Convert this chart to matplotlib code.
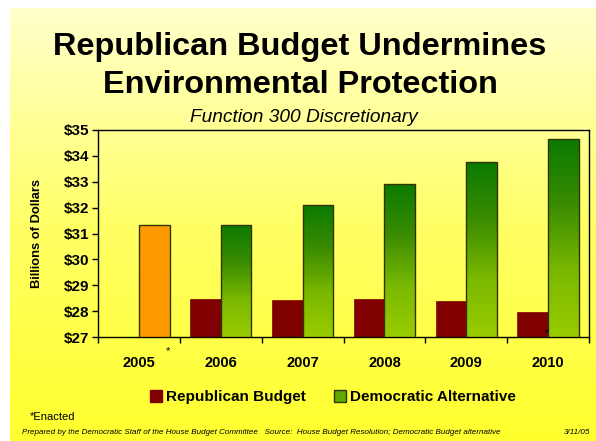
import numpy as np
import matplotlib
matplotlib.use("Agg")
import matplotlib.pyplot as plt
from matplotlib.colors import LinearSegmentedColormap
from matplotlib.patches import Patch

plt.rcParams['font.family'] = ['Liberation Sans', 'DejaVu Sans']

# ---- data ----
years = ["2005", "2006", "2007", "2008", "2009", "2010"]
republican = [np.nan, 28.47, 28.43, 28.47, 28.39, 27.97]
democratic = [31.31, 31.34, 32.11, 32.92, 33.77, 34.65]
enacted_year = "2005"
y_ticks = [27, 28, 29, 30, 31, 32, 33, 34, 35]

W, H = 596, 441
fig = plt.figure(figsize=(W / 100, H / 100), dpi=100)
fig.patch.set_facecolor("white")

# yellow slide background gradient
bg = fig.add_axes([10 / W, 0, 1 - 10 / W, 1 - 8 / H], zorder=0)
bg_cmap = LinearSegmentedColormap.from_list("bg", ["#ffff2e", "#ffff66", "#ffffcc"])
grad = np.linspace(0, 1, 256).reshape(-1, 1)
bg.imshow(grad, cmap=bg_cmap, aspect="auto", origin="lower", extent=(0, 1, 0, 1))
bg.set_axis_off()

ax = fig.add_axes([98 / W, 1 - 337 / H, (589 - 98) / W, (337 - 130) / H], zorder=1)
ax.set_facecolor("none")

x = np.arange(len(years))
w = 0.375
ymin, ymax = y_ticks[0], y_ticks[-1]

ax.bar(x - w / 2, np.array(republican) - ymin, w, bottom=ymin,
       color="#800000", edgecolor="#800000", linewidth=0.5, zorder=2)

green_cmap = LinearSegmentedColormap.from_list("grn", ["#99cc00", "#7ab800", "#3a8c00", "#0a7a00"])
for i, v in enumerate(democratic):
    if years[i] == enacted_year:
        ax.bar(x[i] + w / 2, v - ymin, w, bottom=ymin, color="#ff9900",
               edgecolor="#333300", linewidth=1.0, zorder=3)
        continue
    b = ax.bar(x[i] + w / 2, v - ymin, w, bottom=ymin, color="none",
               edgecolor="#333300", linewidth=1.0, zorder=4)[0]
    im = ax.imshow(grad, cmap=green_cmap, aspect="auto", origin="lower",
                   extent=(x[i], x[i] + w, ymin, v), zorder=3)
    im.set_clip_path(b)

ax.set_xlim(-0.5, len(years) - 0.5)
ax.set_ylim(ymin, ymax)
ax.set_yticks(y_ticks)
ax.set_yticklabels([f"${t}" for t in y_ticks], fontsize=11, fontweight="bold")
ax.set_xticks(np.arange(-0.5, len(years)), minor=False)
ax.set_xticklabels([])
ax.set_xticks(x, minor=True)
ax.set_xticklabels(years, minor=True, fontsize=10.5, fontweight="bold")
ax.tick_params(axis="x", which="minor", length=0, pad=14)
ax.tick_params(axis="x", which="major", length=4, width=1, direction="out")
ax.tick_params(axis="y", length=4, width=1, direction="out", pad=2)
for s in ax.spines.values():
    s.set_linewidth(1)
    s.set_color("black")

ax.set_ylabel("Billions of Dollars", fontsize=9.3, fontweight="bold")
ax.yaxis.set_label_coords(-0.113, 0.5)

# asterisks
fig.text(168 / W, 1 - 351 / H, "*", fontsize=8, ha="center", va="center")
fig.text(547 / W, 1 - 333 / H, "*", fontsize=7, ha="center", va="center")

# titles
fig.text(300 / W, 1 - 47 / H, "Republican Budget Undermines", fontsize=23.4,
         fontweight="bold", ha="center", va="center")
fig.text(300 / W, 1 - 85 / H, "Environmental Protection", fontsize=23.4,
         fontweight="bold", ha="center", va="center")
fig.text(304 / W, 1 - 117 / H, "Function 300 Discretionary", fontsize=13.8,
         style="italic", ha="center", va="center")

# legend
handles = [Patch(facecolor="#800000", edgecolor="#800000", label="Republican Budget"),
           Patch(facecolor="#5ea800", edgecolor="#333300", label="Democratic Alternative")]
fig.legend(handles=handles, loc="center", bbox_to_anchor=(333 / W, 1 - 397 / H),
           ncol=2, frameon=False, handlelength=0.8, handleheight=0.8,
           handletextpad=0.3, columnspacing=1.8,
           prop={"size": 11, "weight": "bold"})

fig.text(30 / W, 1 - 417 / H, "*Enacted", fontsize=8, ha="left", va="center")
fig.text(22 / W, 1 - 433 / H,
         "Prepared by the Democratic Staff of the House Budget Committee   "
         "Source:  House Budget Resolution; Democratic Budget alternative",
         fontsize=5.8, style="italic", ha="left", va="center")
fig.text(590 / W, 1 - 433 / H, "3/11/05", fontsize=5.8, style="italic",
         ha="right", va="center")

fig.savefig("out.png", dpi=100)
